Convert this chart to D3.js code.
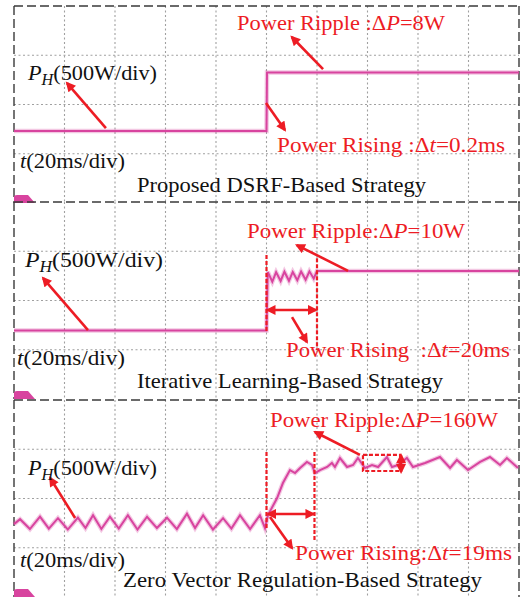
<!DOCTYPE html>
<html>
<head>
<meta charset="utf-8">
<script src="https://cdn.jsdelivr.net/npm/d3@7"></script>
<style>
body { margin: 0; background: #fff; }
text { white-space: pre; }
</style>
</head>
<body>
<div id="chart"></div>
<script>
const W = 527, H = 597;
const red = "#ed1c24";
const pink = "#d8449f";

// scope settings: 20 ms/div x 10 div, 500 W/div x 4 div
const timeDomain = [0, 200];
const powerDomain = [0, 2000];

const titles = ["Proposed DSRF-Based Strategy", "Iterative Learning-Based Strategy", "Zero Vector Regulation-Based Strategy"];
const rippleLabels = ["Power Ripple :", "Power Ripple:", "Power Ripple:"];
const rippleValues = ["=8W", "=10W", "=160W"];
const risingLabels = ["Power Rising :", "Power Rising  :", "Power Rising:"];
const risingValues = ["=0.2ms", "=20ms", "=19ms"];

// traces (t in ms, P in W)
const p1Time = [0, 100, 100.2, 200];
const p1Power = [730, 730, 1325, 1325];

const p2Time = [0, 100, 100.5, 102.3, 103.8, 105.6, 107.1, 108.9, 110.4, 112.2, 113.7, 115.5, 117.0, 118.7, 120.0, 200];
const p2Power = [695, 695, 1290, 1190, 1288, 1198, 1292, 1200, 1290, 1205, 1295, 1210, 1296, 1222, 1300, 1300];

const p3Time = [0, 2.4, 6.3, 10.3, 13.8, 17.4, 21.3, 25.3, 28.3, 31.3, 34.6, 38.0, 41.5, 45.1, 48.9, 52.7, 56.6, 60.6, 64.5, 68.5, 71.7, 74.9, 78.8, 82.8, 86.1, 89.5, 93.5, 97.4, 99.4,
  100.6, 104.2, 106.5, 109.3, 111.3, 113.3, 116.0, 118.0, 119.2, 121.2, 124.0, 125.9, 127.1, 129.1, 131.9, 134.3, 136.2, 139.0, 141.8, 144.2, 147.7, 149.7, 152.1, 155.6, 158.0, 162.8, 168.7, 172.7, 175.4, 179.8, 184.6, 188.5, 192.5, 195.2, 199.6];
const p3Power = [740, 790, 690, 815, 695, 800, 685, 805, 700, 830, 690, 815, 695, 830, 685, 815, 700, 805, 690, 845, 700, 830, 685, 800, 695, 830, 690, 830, 700,
  832, 1005, 1157, 1289, 1259, 1310, 1371, 1340, 1259, 1289, 1320, 1360, 1320, 1411, 1320, 1340, 1411, 1310, 1340, 1320, 1421, 1320, 1340, 1411, 1320, 1360, 1421, 1310, 1391, 1289, 1371, 1421, 1340, 1411, 1310];

const traces = [d3.zip(p1Time, p1Power), d3.zip(p2Time, p2Power), d3.zip(p3Time, p3Power)];

// annotation arrows in data units [[t,P] tail, [t,P] head]
const phArrows = [[[36.4, 761], [21, 1218]], [[29.3, 700], [11.5, 1228]], [[24.2, 802], [14.3, 1208]]];
const rippleArrows = [[[122.4, 1360], [110, 1685]], [[132.3, 1300], [112, 1563]], [[137, 1442], [119.2, 1675]]];
const risingArrows = [[[99.8, 1015], [107.3, 741]], [[110.1, 832], [116, 579]], [[101.4, 812], [110.1, 497]]];
const dashLines = [[], [[[100, 1462], [100, 670]], [[120, 1430], [120, 497]]], [[[100, 1472], [100, 680]], [[119, 1472], [119, 579]]]];
const spanArrows = [[], [[[100.4, 904], [119.6, 904]]], [[[100.6, 843], [118.6, 843]], [[153.3, 1440], [153.3, 1270]]]];
const rippleBox = [null, null, [138.2, 152.9, 1279, 1442]];

// layout: panel tops and text placement [x, baseline offset, width]
const panelTop = [6, 202, 400];
const panelH = 197;
const textPos = [
  { ph: [28, 74, 129], t: [20, 162, 105], title: [137, 186, 289], ripple: [237, 24, 208], rising: [277, 146, 228] },
  { ph: [25, 65, 138], t: [17, 163, 108], title: [137, 186, 306], ripple: [247, 36, 218], rising: [286, 155, 224] },
  { ph: [28, 75, 129], t: [20, 167, 105], title: [123, 187, 359], ripple: [270, 27, 228], rising: [295, 160, 217] }
];

const svg = d3.select("#chart").append("svg")
  .attr("width", W).attr("height", H);

const defs = svg.append("defs");
defs.append("marker")
  .attr("id", "ah")
  .attr("viewBox", "0 0 10 10")
  .attr("refX", 8).attr("refY", 5)
  .attr("markerWidth", 11).attr("markerHeight", 10)
  .attr("markerUnits", "userSpaceOnUse")
  .attr("orient", "auto-start-reverse")
  .append("path").attr("d", "M0,0L10,5L0,10z").attr("fill", red);

const x = d3.scaleLinear().domain(timeDomain).range([14, 519]);

function addText(g, pos, parts, color) {
  const t = g.append("text")
    .attr("x", pos[0]).attr("y", pos[1])
    .attr("font-family", "'Liberation Serif', 'Times New Roman', Times, serif")
    .attr("font-size", 22)
    .attr("fill", color)
    .attr("textLength", pos[2])
    .attr("lengthAdjust", "spacingAndGlyphs");
  parts.forEach(p => {
    const s = t.append("tspan").text(p.s);
    if (p.i) s.attr("font-style", "italic");
    if (p.sub) s.attr("font-size", 16).attr("dy", 5);
    if (p.up) s.attr("dy", -5);
  });
}

titles.forEach((title, k) => {
  const top = panelTop[k];
  const y = d3.scaleLinear().domain(powerDomain).range([top + panelH, top]);
  const g = svg.append("g");

  // grid
  g.selectAll(".vg").data(x.ticks(10).slice(1, -1)).enter().append("line")
    .attr("x1", d => x(d)).attr("x2", d => x(d))
    .attr("y1", top).attr("y2", top + panelH)
    .attr("stroke", "#a0a0a0").attr("stroke-width", 1.1).attr("stroke-dasharray", "2,2.5");
  g.selectAll(".hg").data(y.ticks(4).slice(1, -1)).enter().append("line")
    .attr("x1", x(0)).attr("x2", x(200))
    .attr("y1", d => y(d)).attr("y2", d => y(d))
    .attr("stroke", "#a0a0a0").attr("stroke-width", 1.1).attr("stroke-dasharray", "2,2.5");

  // frame
  const frame = "#3a3a3a";
  g.append("line").attr("x1", x(0)).attr("x2", x(200)).attr("y1", y(2000)).attr("y2", y(2000))
    .attr("stroke", frame).attr("stroke-width", 1.4).attr("stroke-dasharray", "9,4");
  [0, 200].forEach(t => {
    g.append("line").attr("x1", x(t)).attr("x2", x(t)).attr("y1", y(2000)).attr("y2", y(0))
      .attr("stroke", frame).attr("stroke-width", 1.4).attr("stroke-dasharray", "9,4");
  });

  // channel marker
  const b = y(0), l = x(0);
  g.append("path")
    .attr("d", `M${l},${b} L${l},${b - 6} Q${l},${b - 8} ${l + 3},${b - 8} L${l + 14},${b - 8} L${l + 21},${b} Z`)
    .attr("fill", pink);

  // trace
  const line = d3.line().x(d => x(d[0])).y(d => y(d[1]));
  g.append("path").attr("d", line(traces[k]))
    .attr("fill", "none").attr("stroke", pink).attr("stroke-width", 4.5).attr("stroke-opacity", 0.3);
  g.append("path").attr("d", line(traces[k]))
    .attr("fill", "none").attr("stroke", pink).attr("stroke-width", 2);

  // dashed markers
  dashLines[k].forEach(s => {
    g.append("line").attr("x1", x(s[0][0])).attr("y1", y(s[0][1])).attr("x2", x(s[1][0])).attr("y2", y(s[1][1]))
      .attr("stroke", red).attr("stroke-width", 2.2).attr("stroke-dasharray", "4,2");
  });
  if (rippleBox[k]) {
    const r = rippleBox[k];
    g.append("rect").attr("x", x(r[0])).attr("y", y(r[3]))
      .attr("width", x(r[1]) - x(r[0])).attr("height", y(r[2]) - y(r[3]))
      .attr("fill", "none").attr("stroke", red).attr("stroke-width", 2.2).attr("stroke-dasharray", "4,2");
  }
  spanArrows[k].forEach(s => {
    g.append("line").attr("x1", x(s[0][0])).attr("y1", y(s[0][1])).attr("x2", x(s[1][0])).attr("y2", y(s[1][1]))
      .attr("stroke", red).attr("stroke-width", 2.4)
      .attr("marker-start", "url(#ah)").attr("marker-end", "url(#ah)");
  });
  [phArrows[k], rippleArrows[k], risingArrows[k]].forEach(s => {
    g.append("line").attr("x1", x(s[0][0])).attr("y1", y(s[0][1])).attr("x2", x(s[1][0])).attr("y2", y(s[1][1]))
      .attr("stroke", red).attr("stroke-width", 2.6)
      .attr("marker-end", "url(#ah)");
  });

  // texts
  const tp = textPos[k];
  addText(g, [tp.ph[0], top + tp.ph[1], tp.ph[2]], [{ s: "P", i: true }, { s: "H", i: true, sub: true }, { s: "(500W/div)", up: true }], "#111");
  addText(g, [tp.t[0], top + tp.t[1], tp.t[2]], [{ s: "t", i: true }, { s: "(20ms/div)" }], "#111");
  addText(g, [tp.title[0], top + tp.title[1], tp.title[2]], [{ s: title }], "#111");
  addText(g, [tp.ripple[0], top + tp.ripple[1], tp.ripple[2]], [{ s: rippleLabels[k] + "Δ" }, { s: "P", i: true }, { s: rippleValues[k] }], red);
  addText(g, [tp.rising[0], top + tp.rising[1], tp.rising[2]], [{ s: risingLabels[k] + "Δ" }, { s: "t", i: true }, { s: risingValues[k] }], red);
});
</script>
</body>
</html>
